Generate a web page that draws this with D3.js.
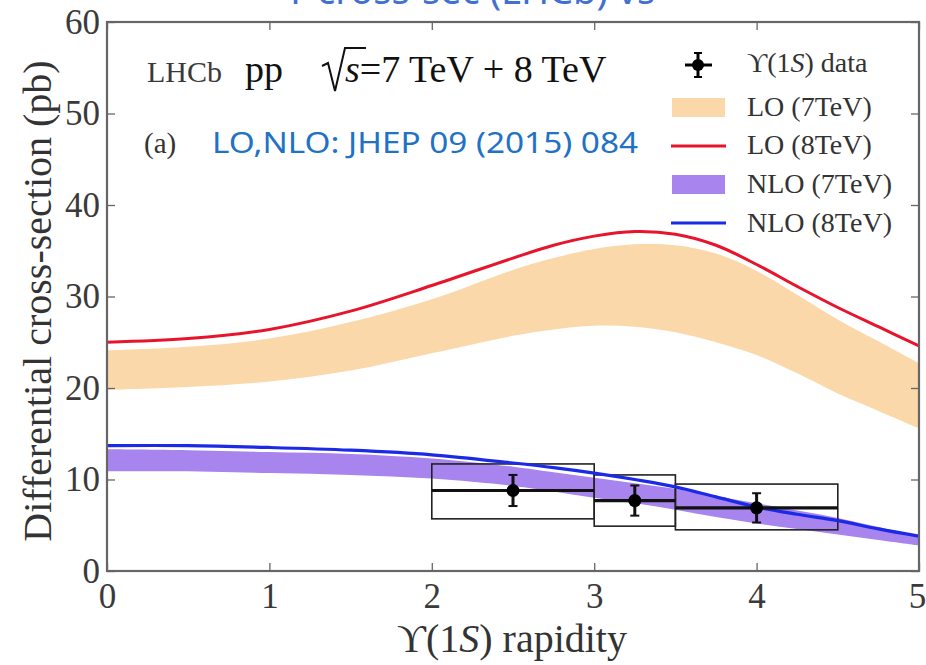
<!DOCTYPE html>
<html>
<head>
<meta charset="utf-8">
<script src="https://cdn.jsdelivr.net/npm/d3@7"></script>
<style>
  html, body { margin: 0; padding: 0; background: #fff; }
  svg { display: block; }
</style>
</head>
<body>
<script>
// ---------------- DATA ----------------
const rapidity = [0, 0.5, 1, 1.5, 2, 2.5, 2.75, 3, 3.25, 3.5, 3.75, 4, 4.25, 4.5, 4.75, 5];
const lo8  = [25.0, 25.4, 26.4, 28.4, 31.2, 34.2, 35.6, 36.6, 37.1, 36.8, 35.6, 33.5, 31.1, 28.8, 26.7, 24.6];
const lo7Hi = [24.1, 24.5, 25.4, 27.2, 29.7, 32.9, 34.2, 35.2, 35.7, 35.6, 34.7, 32.8, 30.2, 27.5, 25.1, 22.7];
const lo7Lo = [19.8, 20.1, 20.7, 21.9, 23.8, 25.7, 26.4, 26.8, 26.7, 26.1, 25.0, 23.6, 21.6, 19.4, 17.5, 15.6];
const nlo8  = [13.7, 13.7, 13.5, 13.2, 12.7, 11.8, 11.3, 10.7, 10.0, 9.2, 8.1, 7.0, 6.2, 5.5, 4.6, 3.8];
const nlo7Hi = [13.3, 13.2, 13.0, 12.8, 12.3, 11.4, 10.8, 10.2, 9.6, 9.0, 8.2, 7.4, 6.6, 5.8, 4.8, 3.8];
const nlo7Lo = [10.9, 10.9, 10.7, 10.5, 10.1, 9.3, 8.7, 8.0, 7.4, 6.7, 5.9, 5.2, 4.6, 4.0, 3.4, 2.8];

const binLow  = [2.0, 3.0, 3.5];
const binHigh = [3.0, 3.5, 4.5];
const dataX   = [2.5, 3.25, 4.0];
const dataY   = [8.8, 7.7, 6.9];
const statErr = [1.7, 1.65, 1.6];
const sysLow  = [5.7, 4.9, 4.5];
const sysHigh = [11.7, 10.5, 9.5];

const xTicks = [0, 1, 2, 3, 4, 5];
const yTicks = [0, 10, 20, 30, 40, 50, 60];

const legendLabels = ["LO (7TeV)", "LO (8TeV)", "NLO (7TeV)", "NLO (8TeV)"];

// ---------------- LAYOUT ----------------
const W = 926, H = 665;
const L = 107, R = 919, T = 22, B = 571;
const colOrange = "#fad8aa", colRed = "#e8142c", colPurple = "#a784ee", colBlue = "#1a2ae6";
const serif = "'Liberation Serif', 'Times New Roman', 'DejaVu Serif', serif";

const svg = d3.select("body").append("svg").attr("width", W).attr("height", H);

const x = d3.scaleLinear().domain([0, 5]).range([L, R]);
const y = d3.scaleLinear().domain([0, 60]).range([B, T]);

svg.append("defs").append("clipPath").attr("id", "plotClip")
  .append("rect").attr("x", L).attr("y", T).attr("width", R - L).attr("height", B - T);

// slide title, cut off at the top edge as in the reference
svg.append("text").attr("x", 470).attr("y", 4).attr("text-anchor", "middle")
  .attr("font-family", "'Noto Sans', 'Open Sans', sans-serif").attr("font-size", 38)
  .attr("fill", "#3f70d2").text("ϒ  cross-sec (LHCb) vs");

const g = svg.append("g").attr("clip-path", "url(#plotClip)");
const idx = d3.range(rapidity.length);

const curve = d3.curveCatmullRom.alpha(0.5);
const area = (lo, hi) => d3.area().curve(curve)
  .x(i => x(rapidity[i])).y0(i => y(lo[i])).y1(i => y(hi[i]));
const line = (v) => d3.line().curve(curve)
  .x(i => x(rapidity[i])).y(i => y(v[i]));

g.append("path").attr("d", area(lo7Lo, lo7Hi)(idx)).attr("fill", colOrange);
g.append("path").attr("d", line(lo8)(idx)).attr("fill", "none").attr("stroke", colRed).attr("stroke-width", 3);
g.append("path").attr("d", area(nlo7Lo, nlo7Hi)(idx)).attr("fill", colPurple);

// data boxes (systematics)
const di = d3.range(dataX.length);
g.selectAll("rect.sys").data(di).join("rect").attr("class", "sys")
  .attr("x", i => x(binLow[i])).attr("width", i => x(binHigh[i]) - x(binLow[i]))
  .attr("y", i => y(sysHigh[i])).attr("height", i => y(sysLow[i]) - y(sysHigh[i]))
  .attr("fill", "none").attr("stroke", "#222").attr("stroke-width", 1.6);

g.append("path").attr("d", line(nlo8)(idx)).attr("fill", "none").attr("stroke", colBlue).attr("stroke-width", 3.2);

// bin-width lines
g.selectAll("line.bin").data(di).join("line").attr("class", "bin")
  .attr("x1", i => x(binLow[i])).attr("x2", i => x(binHigh[i]))
  .attr("y1", i => y(dataY[i])).attr("y2", i => y(dataY[i]))
  .attr("stroke", "#111").attr("stroke-width", 3.2);
// stat error bars
g.selectAll("line.err").data(di).join("line").attr("class", "err")
  .attr("x1", i => x(dataX[i])).attr("x2", i => x(dataX[i]))
  .attr("y1", i => y(dataY[i] + statErr[i])).attr("y2", i => y(dataY[i] - statErr[i]))
  .attr("stroke", "#111").attr("stroke-width", 3);
[1, -1].forEach(s => {
  g.selectAll("line.cap" + (s > 0 ? "u" : "d")).data(di).join("line")
    .attr("x1", i => x(dataX[i]) - 4.5).attr("x2", i => x(dataX[i]) + 4.5)
    .attr("y1", i => y(dataY[i] + s * statErr[i])).attr("y2", i => y(dataY[i] + s * statErr[i]))
    .attr("stroke", "#111").attr("stroke-width", 2);
});
g.selectAll("circle.pt").data(di).join("circle").attr("class", "pt")
  .attr("cx", i => x(dataX[i])).attr("cy", i => y(dataY[i])).attr("r", 6.5).attr("fill", "#000");

// ---------------- AXES ----------------
const axColor = "#666";
function styleAxis(sel, labels) {
  sel.select(".domain").remove();
  sel.selectAll(".tick line").attr("stroke", axColor).attr("stroke-width", 1.3);
  sel.selectAll(".tick text").attr("font-family", serif).attr("font-size", 35).attr("fill", "#3a3a3a");
  if (!labels) sel.selectAll(".tick text").remove();
}
const xAx = svg.append("g").attr("transform", `translate(0,${B})`)
  .call(d3.axisBottom(x).tickValues(xTicks).tickFormat(d3.format("d")).tickSize(-8).tickPadding(12))
  .call(s => styleAxis(s, true));
xAx.selectAll(".tick text").filter(d => d === 5).attr("dx", -2);
svg.append("g").attr("transform", `translate(0,${T})`)
  .call(d3.axisTop(x).tickValues(xTicks).tickSize(-8))
  .call(s => styleAxis(s, false));
svg.append("g").attr("transform", `translate(${L},0)`)
  .call(d3.axisLeft(y).tickValues(yTicks).tickFormat(d3.format("d")).tickSize(-8).tickPadding(7))
  .call(s => styleAxis(s, true));
svg.append("g").attr("transform", `translate(${R},0)`)
  .call(d3.axisRight(y).tickValues(yTicks).tickSize(-8))
  .call(s => styleAxis(s, false));

svg.append("rect").attr("x", L).attr("y", T).attr("width", R - L).attr("height", B - T)
  .attr("fill", "none").attr("stroke", axColor).attr("stroke-width", 2.2);

// axis titles
svg.append("text").attr("transform", "translate(51,301) rotate(-90)").attr("text-anchor", "middle")
  .attr("font-family", serif).attr("font-size", 40).attr("fill", "#333")
  .text("Differential cross-section (pb)");
const xl = svg.append("text").attr("x", 512).attr("y", 652).attr("text-anchor", "middle")
  .attr("font-family", serif).attr("font-size", 40).attr("fill", "#333");
xl.append("tspan").text("ϒ(1");
xl.append("tspan").attr("font-style", "italic").text("S");
xl.append("tspan").text(") rapidity");

// ---------------- ANNOTATIONS ----------------
svg.append("text").attr("x", 147).attr("y", 82).attr("font-family", serif).attr("font-size", 30)
  .attr("fill", "#3a3a3a").text("LHCb");
svg.append("text").attr("x", 245).attr("y", 82).attr("font-family", serif).attr("font-size", 38)
  .attr("fill", "#111").text("pp");
// sqrt sign
svg.append("path").attr("d", "M322,66 L328,63 L335,91 L345,48 L366,48")
  .attr("fill", "none").attr("stroke", "#111").attr("stroke-width", 2);
const en = svg.append("text").attr("x", 345).attr("y", 82).attr("font-family", serif).attr("font-size", 38).attr("fill", "#111");
en.append("tspan").attr("font-style", "italic").text("s");
en.append("tspan").text("=7 TeV + 8 TeV");

svg.append("text").attr("x", 144).attr("y", 153).attr("font-family", serif).attr("font-size", 29)
  .attr("fill", "#333").text("(a)");
svg.append("text").attr("x", 212).attr("y", 153).attr("font-family", "'Noto Sans', 'Open Sans', sans-serif")
  .attr("font-size", 29).attr("fill", "#1f72c4")
  .attr("textLength", 426).attr("lengthAdjust", "spacingAndGlyphs")
  .text("LO,NLO: JHEP 09 (2015) 084");

// ---------------- LEGEND ----------------
const lg = svg.append("g");
lg.append("line").attr("x1", 685).attr("x2", 712).attr("y1", 65).attr("y2", 65).attr("stroke", "#000").attr("stroke-width", 3);
lg.append("line").attr("x1", 698).attr("x2", 698).attr("y1", 53).attr("y2", 77).attr("stroke", "#000").attr("stroke-width", 3);
lg.append("line").attr("x1", 694).attr("x2", 702).attr("y1", 53).attr("y2", 53).attr("stroke", "#000").attr("stroke-width", 2);
lg.append("line").attr("x1", 694).attr("x2", 702).attr("y1", 77).attr("y2", 77).attr("stroke", "#000").attr("stroke-width", 2);
lg.append("circle").attr("cx", 698).attr("cy", 65).attr("r", 6).attr("fill", "#000");
const dt = lg.append("text").attr("x", 747).attr("y", 72).attr("font-family", serif).attr("font-size", 28).attr("fill", "#333");
dt.append("tspan").text("ϒ(1");
dt.append("tspan").attr("font-style", "italic").text("S");
dt.append("tspan").text(") data");

lg.append("rect").attr("x", 672).attr("y", 98).attr("width", 53).attr("height", 19).attr("fill", colOrange);
lg.append("line").attr("x1", 671).attr("x2", 726).attr("y1", 146).attr("y2", 146).attr("stroke", colRed).attr("stroke-width", 3);
lg.append("rect").attr("x", 672).attr("y", 175).attr("width", 53).attr("height", 19).attr("fill", colPurple);
lg.append("line").attr("x1", 671).attr("x2", 726).attr("y1", 223).attr("y2", 223).attr("stroke", colBlue).attr("stroke-width", 3);
const lgY = [116, 154, 193, 232];
lg.selectAll("text.lt").data(legendLabels).join("text").attr("class", "lt")
  .attr("x", 747).attr("y", (d, i) => lgY[i]).attr("font-family", serif).attr("font-size", 28)
  .attr("fill", "#333").text(d => d);
</script>
</body>
</html>
